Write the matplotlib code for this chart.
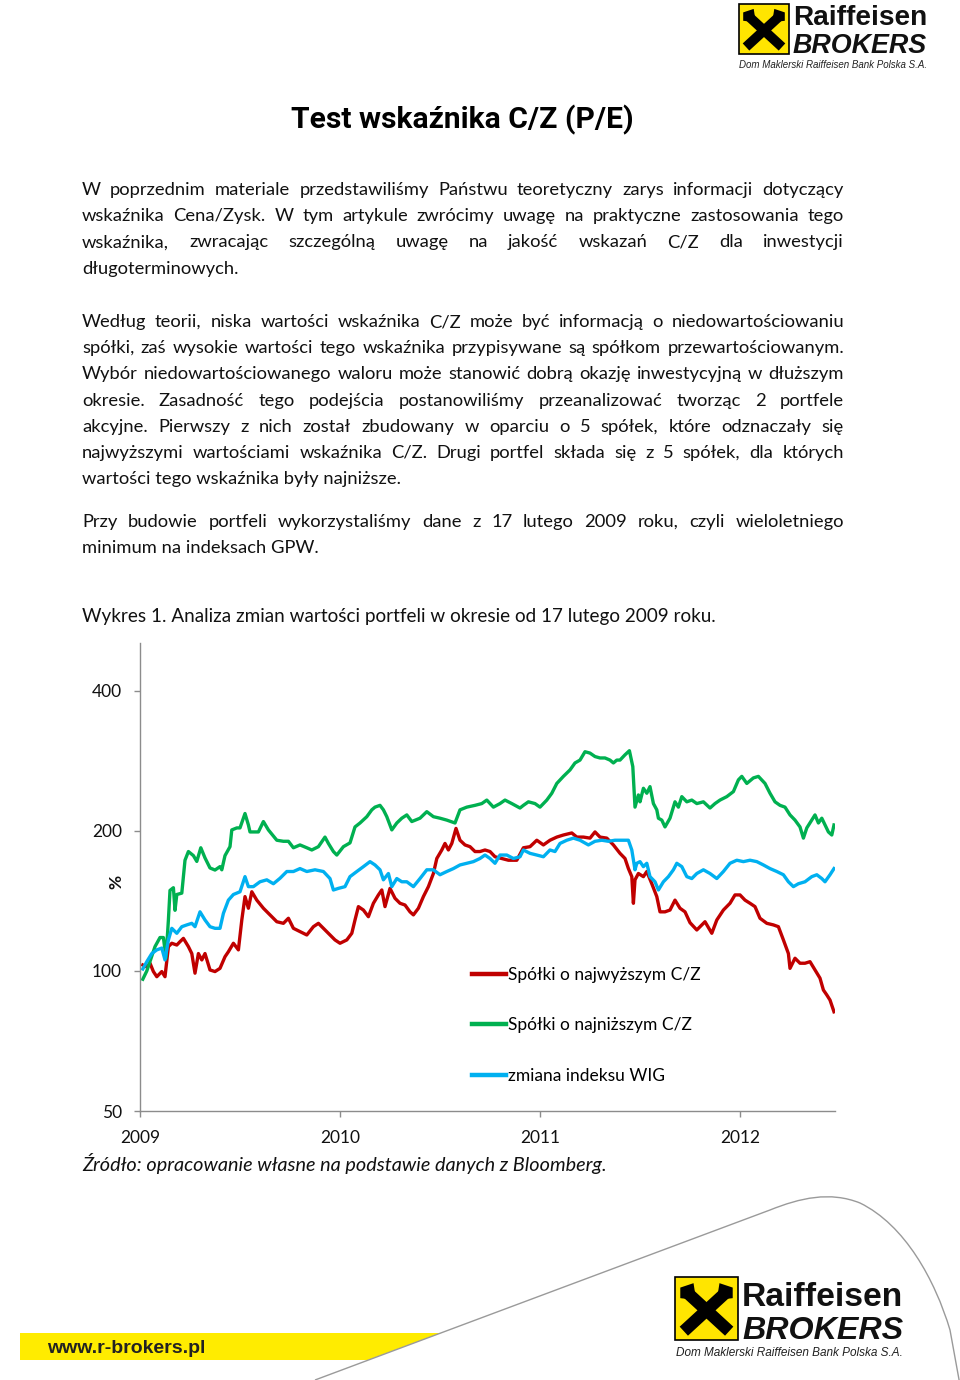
import matplotlib
matplotlib.use("Agg")
import matplotlib.pyplot as plt
from matplotlib.patches import Rectangle, Polygon, PathPatch
from matplotlib.path import Path
from matplotlib.lines import Line2D

# --- chart data (index = 100 on 17.02.2009) ---
high_t = [2009.014, 2009.034, 2009.050, 2009.067, 2009.084, 2009.109, 2009.125, 2009.142, 2009.159, 2009.184,
          2009.200, 2009.217, 2009.242, 2009.259, 2009.275, 2009.292, 2009.309, 2009.325, 2009.350, 2009.375,
          2009.400, 2009.425, 2009.442, 2009.467, 2009.492, 2009.509, 2009.525, 2009.542, 2009.559, 2009.584,
          2009.617, 2009.650, 2009.684, 2009.717, 2009.742, 2009.767, 2009.800, 2009.834, 2009.867, 2009.892,
          2009.925, 2009.950, 2009.975, 2010.000, 2010.034, 2010.059, 2010.075, 2010.092, 2010.117, 2010.142,
          2010.167, 2010.192, 2010.209, 2010.225, 2010.250, 2010.275, 2010.300, 2010.325, 2010.350, 2010.367,
          2010.392, 2010.417, 2010.442, 2010.467, 2010.484, 2010.509, 2010.525, 2010.542, 2010.559, 2010.580,
          2010.600, 2010.625, 2010.650, 2010.675, 2010.700, 2010.725, 2010.750, 2010.775, 2010.809, 2010.842,
          2010.884, 2010.917, 2010.950, 2010.984, 2011.017, 2011.050, 2011.084, 2011.117, 2011.159, 2011.184,
          2011.217, 2011.250, 2011.275, 2011.300, 2011.334, 2011.367, 2011.400, 2011.425, 2011.442, 2011.459,
          2011.467, 2011.475, 2011.492, 2011.517, 2011.534, 2011.559, 2011.584, 2011.600, 2011.625, 2011.650,
          2011.675, 2011.700, 2011.725, 2011.750, 2011.784, 2011.825, 2011.859, 2011.884, 2011.917, 2011.950,
          2011.975, 2012.000, 2012.025, 2012.050, 2012.075, 2012.100, 2012.134, 2012.167, 2012.192, 2012.217,
          2012.242, 2012.250, 2012.275, 2012.300, 2012.325, 2012.350, 2012.375, 2012.400, 2012.417, 2012.434,
          2012.450, 2012.470]
high_v = [103, 102, 103.9, 99.7, 97.2, 99.7, 97.2, 112.8, 114.7, 113.7,
          115.6, 117.5, 112.8, 109, 98.9, 109, 105.6, 109, 100.5, 99.7,
          101.3, 107.3, 110, 114.7, 111, 128.7, 144.5, 136.4, 148, 142,
          136.4, 132, 127.6, 126.6, 129.8, 123.5, 121.5, 119.5, 124.5, 126.6,
          122.5, 119.5, 116.6, 114.7, 116.6, 120.5, 128.7, 137.5, 135.2, 130.8,
          139.8, 145.7, 149.3, 137.5, 150.5, 143.3, 139.8, 138.6, 134, 132,
          136.4, 144.5, 151.8, 162, 174.5, 182, 188, 182, 188, 202.5,
          191, 186.6, 185, 180.6, 180.6, 182, 180.6, 176, 174.5, 173,
          173, 184, 185, 191, 186.6, 191, 194, 196, 198, 194,
          194, 193, 199, 194, 193, 186.6, 179, 174.5, 166, 159.5,
          139.8, 157, 162, 159.5, 163.6, 154, 144.5, 134, 134, 135.2,
          142, 136.4, 134, 127, 122.5, 127.6, 120.5, 128.7, 135.2, 139.8,
          145.7, 145.7, 142, 139.8, 137.5, 129.8, 126.6, 125.6, 124.5, 116.6,
          109, 101.3, 106.5, 103.9, 103.9, 104.7, 100.5, 96.5, 91, 88.8,
          86.6, 81.7]

low_t = [2009.014, 2009.034, 2009.075, 2009.100, 2009.117, 2009.130, 2009.142, 2009.150, 2009.167, 2009.175,
         2009.184, 2009.209, 2009.225, 2009.242, 2009.267, 2009.284, 2009.304, 2009.325, 2009.350, 2009.375,
         2009.400, 2009.409, 2009.425, 2009.450, 2009.459, 2009.484, 2009.500, 2009.525, 2009.542, 2009.550,
         2009.592, 2009.617, 2009.642, 2009.684, 2009.717, 2009.742, 2009.767, 2009.800, 2009.834, 2009.859,
         2009.892, 2009.925, 2009.942, 2009.967, 2009.984, 2010.017, 2010.050, 2010.075, 2010.100, 2010.134,
         2010.159, 2010.175, 2010.200, 2010.217, 2010.234, 2010.259, 2010.284, 2010.309, 2010.334, 2010.359,
         2010.400, 2010.434, 2010.467, 2010.500, 2010.534, 2010.575, 2010.600, 2010.634, 2010.675, 2010.709,
         2010.734, 2010.767, 2010.800, 2010.825, 2010.859, 2010.900, 2010.917, 2010.942, 2010.975, 2011.000,
         2011.034, 2011.059, 2011.084, 2011.117, 2011.150, 2011.175, 2011.200, 2011.225, 2011.250, 2011.275,
         2011.300, 2011.325, 2011.350, 2011.367, 2011.384, 2011.400, 2011.425, 2011.447, 2011.464, 2011.475,
         2011.492, 2011.500, 2011.517, 2011.534, 2011.550, 2011.567, 2011.584, 2011.592, 2011.609, 2011.625,
         2011.650, 2011.675, 2011.692, 2011.709, 2011.734, 2011.759, 2011.784, 2011.817, 2011.850, 2011.875,
         2011.900, 2011.934, 2011.967, 2011.992, 2012.009, 2012.034, 2012.067, 2012.092, 2012.125, 2012.150,
         2012.175, 2012.200, 2012.225, 2012.250, 2012.275, 2012.300, 2012.317, 2012.334, 2012.359, 2012.375,
         2012.392, 2012.409, 2012.425, 2012.442, 2012.459, 2012.470]
low_v = [96, 100, 112.8, 118, 118, 106.6, 128.7, 149, 151, 135,
         146, 147, 173, 180.6, 177, 172, 184, 175, 166.5, 164.8,
         167.6, 165, 177, 185, 201, 203, 203, 218, 206, 199,
         199, 209.5, 201, 191, 190, 190, 184, 186.6, 184, 182,
         185, 194, 188, 180.6, 177.5, 185, 188.5, 204, 208, 214.6,
         222, 225, 227, 222, 214.6, 201, 208, 213, 216.5, 209.5,
         213, 220, 214.6, 213, 211, 208, 222, 225, 227, 229,
         233, 225, 229, 233, 229, 224, 227, 231, 229, 225,
         233, 241, 253, 262, 270.5, 280, 284, 296, 294, 289,
         287, 287, 284, 280, 284, 284, 291.5, 297.5, 275, 225,
         239, 231, 247, 241, 249, 229, 222, 213, 211, 204,
         213, 231, 225, 237, 231, 233, 229, 231, 224, 229,
         233, 237, 243, 257.5, 262, 253, 260, 262, 253, 241,
         231, 227, 225, 216.5, 211, 204, 193, 203, 211, 216.5,
         208, 213, 206, 199, 196, 206]

wig_t = [2009.014, 2009.034, 2009.059, 2009.084, 2009.109, 2009.125, 2009.142, 2009.159, 2009.184, 2009.209,
         2009.234, 2009.259, 2009.275, 2009.300, 2009.325, 2009.350, 2009.375, 2009.400, 2009.417, 2009.442,
         2009.467, 2009.500, 2009.525, 2009.542, 2009.567, 2009.600, 2009.634, 2009.667, 2009.700, 2009.734,
         2009.767, 2009.800, 2009.834, 2009.875, 2009.917, 2009.950, 2009.967, 2009.992, 2010.025, 2010.050,
         2010.084, 2010.117, 2010.150, 2010.175, 2010.200, 2010.217, 2010.242, 2010.259, 2010.284, 2010.309,
         2010.334, 2010.367, 2010.400, 2010.434, 2010.467, 2010.500, 2010.534, 2010.567, 2010.600, 2010.634,
         2010.667, 2010.700, 2010.725, 2010.750, 2010.775, 2010.800, 2010.834, 2010.867, 2010.900, 2010.917,
         2010.950, 2010.984, 2011.017, 2011.050, 2011.075, 2011.100, 2011.134, 2011.167, 2011.200, 2011.242,
         2011.275, 2011.309, 2011.342, 2011.375, 2011.409, 2011.442, 2011.459, 2011.475, 2011.484, 2011.500,
         2011.517, 2011.534, 2011.550, 2011.575, 2011.592, 2011.617, 2011.642, 2011.667, 2011.684, 2011.709,
         2011.734, 2011.759, 2011.784, 2011.817, 2011.850, 2011.884, 2011.917, 2011.950, 2011.984, 2012.017,
         2012.050, 2012.084, 2012.117, 2012.150, 2012.184, 2012.217, 2012.242, 2012.267, 2012.292, 2012.325,
         2012.359, 2012.384, 2012.409, 2012.425, 2012.450, 2012.470]
wig_v = [101, 104.7, 109, 111, 112, 105.6, 116.6, 123.5, 120.5, 124.5,
         125.6, 126.6, 124.5, 134, 128.7, 124.5, 123.5, 123.5, 133, 142,
         146, 148, 159.5, 151.8, 151.8, 155.5, 157, 154, 158.2, 163.6,
         163.6, 166, 163.6, 165, 163.6, 158, 149.3, 150.5, 151.8, 159.5,
         163.6, 167.6, 171.8, 169, 165, 157, 162, 151.8, 158, 155.5,
         155.5, 151.8, 158, 165, 165, 161, 163.6, 166, 169, 170.4,
         171.8, 174.5, 177.5, 174.5, 170.4, 177.5, 177.5, 174.5, 176, 182,
         179, 177.5, 176, 182, 180.6, 188, 191, 193, 191, 186.6,
         190, 191, 190, 191, 191, 191, 182, 165, 170.4, 171.8,
         167.6, 170.4, 159.5, 155.5, 149.3, 155.5, 159.5, 165, 170.4, 167.6,
         159.5, 158, 162, 165, 162, 158, 163.6, 170.4, 173, 171.8,
         173, 171.8, 169, 166, 163.6, 161, 155.5, 151.8, 154, 155.5,
         159.5, 161, 158, 155.5, 161, 166]

series_labels = ["Spółki o najwyższym C/Z", "Spółki o najniższym C/Z", "zmiana indeksu WIG"]
series_colors = ["#C00000", "#00B050", "#00B0F0"]
year_ticks = [2009, 2010, 2011, 2012]
value_ticks = [50, 100, 200, 400]

# --- page text ---
title = "Test wskaźnika C/Z (P/E)"
paragraphs = [
    ["W poprzednim materiale przedstawiliśmy Państwu teoretyczny zarys informacji dotyczący",
     "wskaźnika Cena/Zysk. W tym artykule zwrócimy uwagę na praktyczne zastosowania tego",
     "wskaźnika, zwracając szczególną uwagę na jakość wskazań C/Z dla inwestycji",
     "długoterminowych."],
    ["Według teorii, niska wartości wskaźnika C/Z może być informacją o niedowartościowaniu",
     "spółki, zaś wysokie wartości tego wskaźnika przypisywane są spółkom przewartościowanym.",
     "Wybór niedowartościowanego waloru może stanowić dobrą okazję inwestycyjną w dłuższym",
     "okresie. Zasadność tego podejścia postanowiliśmy przeanalizować tworząc 2 portfele",
     "akcyjne. Pierwszy z nich został zbudowany w oparciu o 5 spółek, które odznaczały się",
     "najwyższymi wartościami wskaźnika C/Z. Drugi portfel składa się z 5 spółek, dla których",
     "wartości tego wskaźnika były najniższe."],
    ["Przy budowie portfeli wykorzystaliśmy dane z 17 lutego 2009 roku, czyli wieloletniego",
     "minimum na indeksach GPW."],
]
paragraph_tops = [188, 320, 520]
caption = "Wykres 1. Analiza zmian wartości portfeli w okresie od 17 lutego 2009 roku."
source = "Źródło: opracowanie własne na podstawie danych z Bloomberg."

W, H = 960, 1380
BODY = "Lato"
fig = plt.figure(figsize=(W / 100, H / 100), dpi=100)
fig.patch.set_facecolor("white")
renderer = fig.canvas.get_renderer()


def fx(x):
    return x / W


def fy(y):
    return 1 - y / H


def put(x, y, s, **kw):
    kw.setdefault("va", "baseline")
    return fig.text(fx(x), fy(y), s, **kw)


def width_of(t):
    return t.get_window_extent(renderer=renderer).width


def fitted(x0, x1, y, s, **kw):
    t = put(x0, y, s, fontsize=10, **kw)
    t.set_fontsize(10 * (x1 - x0) / width_of(t))
    return t


# body text, justified between x0 and x1
X0, X1 = 82, 844
probe = [put(0, -50, ln, fontsize=13, family=BODY) for p in paragraphs for ln in p[:-1]]
widest = max(width_of(t) for t in probe)
for t in probe:
    t.remove()
body_size = min(13.5, 13 * 745 / widest)


def body_line(line, y, justify):
    if not justify:
        put(X0, y, line, fontsize=body_size, family=BODY, color="#111111")
        return
    words = line.split(" ")
    texts = [put(X0, y, w, fontsize=body_size, family=BODY, color="#111111") for w in words]
    widths = [width_of(t) for t in texts]
    gap = (X1 - X0 - sum(widths)) / (len(words) - 1)
    x = X0
    for t, w in zip(texts, widths):
        t.set_x(fx(x))
        x += w + gap


for para, top in zip(paragraphs, paragraph_tops):
    for i, line in enumerate(para):
        body_line(line, top + 7 + 26.2 * i, i < len(para) - 1)

fitted(291, 634, 128, title, family="Roboto", fontweight="bold", color="black")
fitted(82, 716, 622, caption, family=BODY, color="#111111")
fitted(82, 607, 1171, source, family=BODY, style="italic", color="#111111")


# --- logos ---
def logo(x, y, side, text_x, text_x1, rai_base, bro_base, sub_x0, sub_x1, sub_base):
    fig.patches.append(Rectangle((fx(x), fy(y + side)), side / W, side / H, transform=fig.transFigure,
                                 facecolor="#FFE500", edgecolor="black", lw=1.2))
    m = side * 0.14
    lw = side * 0.14
    for (ax0, ay0, ax1, ay1) in [(x + m, y + side - m, x + side - m * 1.2, y + m * 1.6),
                                 (x + side - m, y + side - m, x + m * 1.2, y + m * 1.6)]:
        fig.lines.append(Line2D([fx(ax0), fx(ax1)], [fy(ay0), fy(ay1)], transform=fig.transFigure,
                                color="black", lw=lw, solid_capstyle="butt"))
    # horse heads at the top ends
    for sgn, cx in [(1, x + side - m * 1.5), (-1, x + m * 1.5)]:
        head = Polygon([(fx(cx - sgn * m * 0.9), fy(y + m * 2.6)), (fx(cx - sgn * m * 0.6), fy(y + m * 0.7)),
                        (fx(cx + sgn * m * 0.9), fy(y + m * 1.2)), (fx(cx + sgn * m * 0.9), fy(y + m * 2.4))],
                       closed=True, transform=fig.transFigure, facecolor="black", edgecolor="none")
        fig.patches.append(head)
    fitted(text_x, text_x1, rai_base, "Raiffeisen", family="Liberation Sans", fontweight="bold", color="#111111")
    fitted(text_x, text_x1, bro_base, "BROKERS", family="Liberation Sans", fontweight="bold",
           style="italic", color="#111111")
    fitted(sub_x0, sub_x1, sub_base, "Dom Maklerski Raiffeisen Bank Polska S.A.",
           family="Liberation Sans", style="italic", color="#222222")


logo(739, 4, 50, 793, 927, 25, 53, 739, 929, 68)
logo(675, 1277, 63, 742, 903, 1306, 1339, 676, 905, 1356)

# yellow bar and grey swoosh at the bottom
fig.patches.append(Polygon([(fx(20), fy(1333)), (fx(441), fy(1333)), (fx(368), fy(1360)), (fx(20), fy(1360))],
                           closed=True, transform=fig.transFigure, facecolor="#FFEC00", edgecolor="none"))
put(47, 1353, "www.r-brokers.pl", fontsize=14, family="Liberation Sans", fontweight="bold", color="#222222")
verts = [(315, 1380), (770, 1210), (800, 1198), (830, 1191), (860, 1203),
         (905, 1225), (935, 1280), (950, 1330), (960, 1385)]
codes = [Path.MOVETO, Path.LINETO, Path.CURVE4, Path.CURVE4, Path.CURVE4,
         Path.CURVE4, Path.CURVE4, Path.CURVE4, Path.LINETO]
fig.patches.append(PathPatch(Path([(fx(a), fy(b)) for a, b in verts], codes), transform=fig.transFigure,
                             facecolor="none", edgecolor="#9a9a9a", lw=1.0))

# --- chart ---
ax = fig.add_axes([fx(140), fy(1111), (835 - 140) / W, (1111 - 643) / H])
lines = []
for t, v, c in [(high_t, high_v, series_colors[0]), (low_t, low_v, series_colors[1]), (wig_t, wig_v, series_colors[2])]:
    ln, = ax.plot(t, v, color=c, lw=2.4, solid_joinstyle="round")
    lines.append(ln)
ax.set_yscale("log", base=2)
ax.set_ylim(50, 507)
ax.set_xlim(2009.0, 2012.475)
ax.set_yticks(value_ticks)
ax.set_yticklabels([str(v) for v in value_ticks])
ax.yaxis.set_minor_locator(matplotlib.ticker.NullLocator())
ax.set_xticks(year_ticks)
ax.set_xticklabels([str(y) for y in year_ticks])
for s in ["top", "right"]:
    ax.spines[s].set_visible(False)
for s in ["left", "bottom"]:
    ax.spines[s].set_color("#8c8c8c")
    ax.spines[s].set_linewidth(1.0)
ax.tick_params(axis="both", colors="#8c8c8c", length=4, width=1.0, labelcolor="#111111", labelsize=12.5)
ax.tick_params(axis="y", pad=9)
ax.tick_params(axis="x", pad=10)
for lab in ax.get_xticklabels() + ax.get_yticklabels():
    lab.set_family(BODY)
put(116, 882, "%", fontsize=12.5, family=BODY, fontweight="bold", rotation=90, va="center", ha="center",
    color="#111111")

leg = ax.legend(lines, series_labels, loc="upper left", bbox_to_anchor=(fx(463), fy(958)),
                bbox_transform=fig.transFigure, frameon=False, borderpad=0, handlelength=2.0,
                handletextpad=0.1, labelspacing=2.0, prop={"family": BODY, "size": 12.5})
for h in leg.legend_handles:
    h.set_linewidth(3.2)

fig.savefig("out.png", dpi=100, facecolor="white")
